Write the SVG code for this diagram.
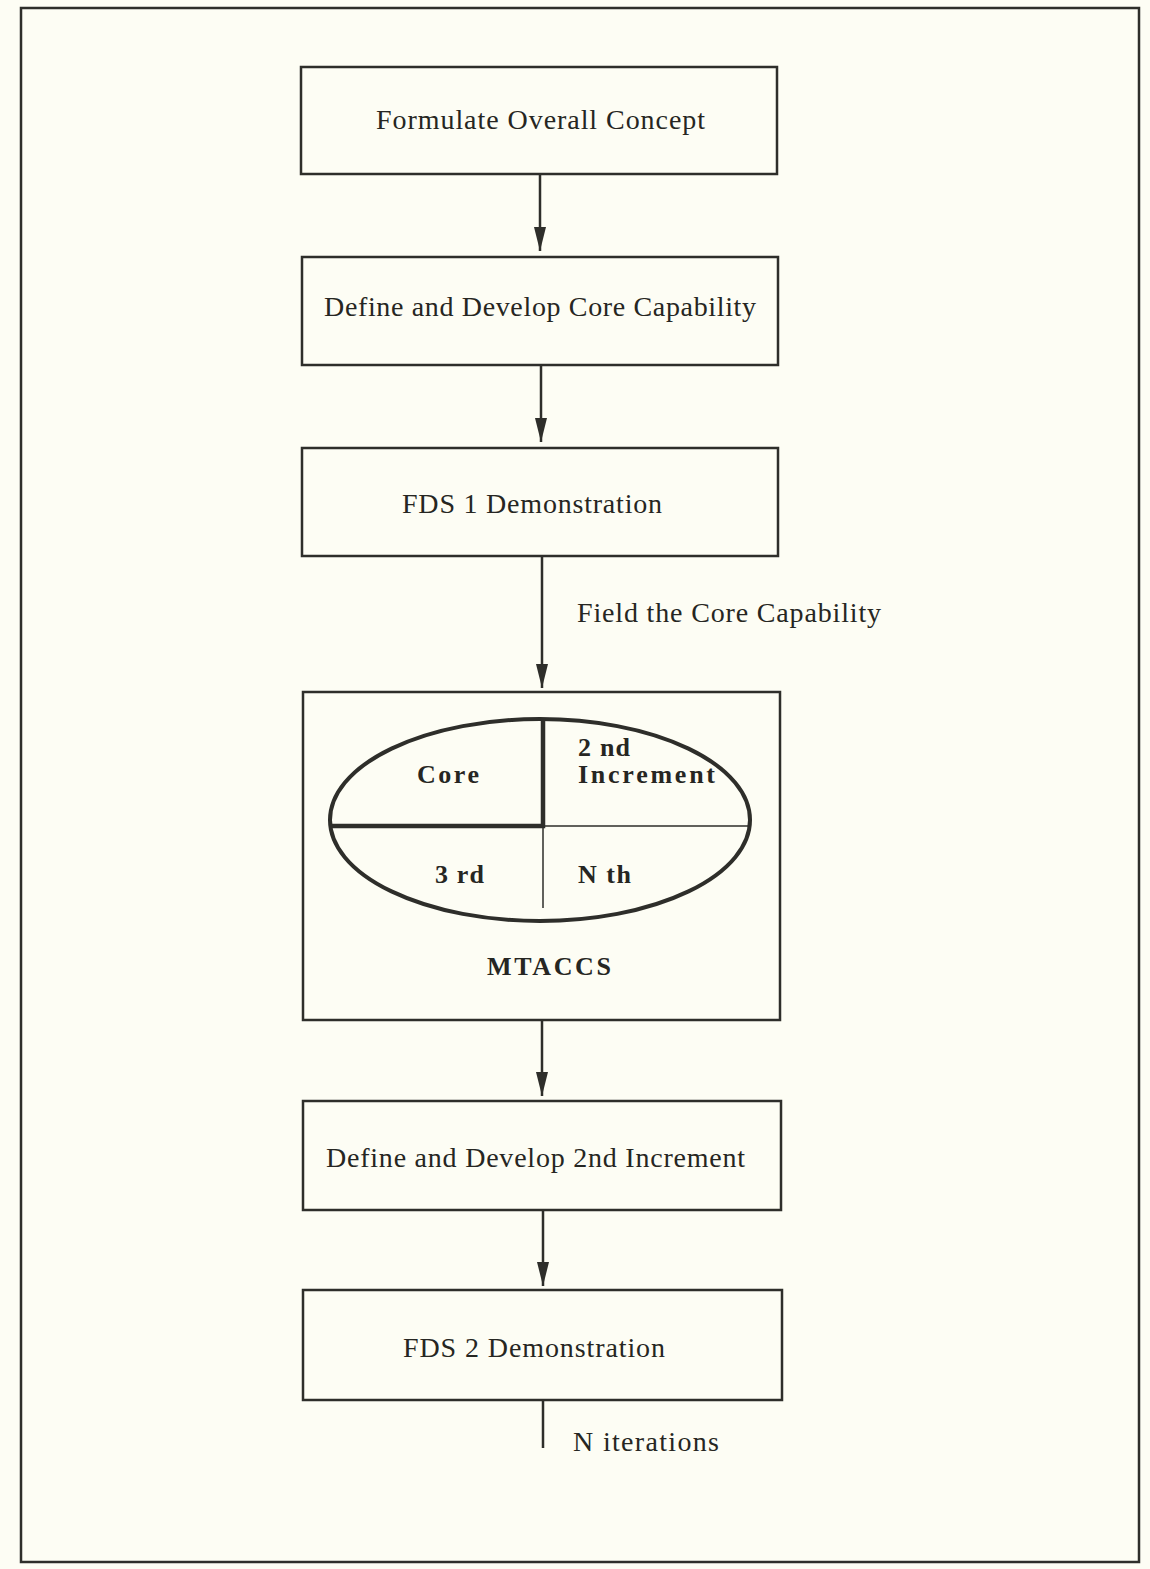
<svg xmlns="http://www.w3.org/2000/svg" width="1150" height="1569" viewBox="0 0 1150 1569">
  <style>
    .box { fill: none; stroke: #2e2e2a; stroke-width: 2.5; }
    .lbl { font-family: "Liberation Serif", "DejaVu Serif", serif; font-size: 28px; fill: #262622; }
    .bold { font-family: "Liberation Serif", "DejaVu Serif", serif; font-size: 26px; font-weight: bold; fill: #262622; }
    .edge { stroke: #2e2e2a; stroke-width: 2.5; fill: none; }
  </style>
  <defs>
    <marker id="head" viewBox="0 0 24 12" refX="24" refY="6" markerUnits="userSpaceOnUse" markerWidth="24" markerHeight="12" orient="auto">
      <path d="M0,0 L24,6 L0,12 Z" fill="#2e2e2a"/>
    </marker>
  </defs>
  <rect width="1150" height="1569" fill="#fdfdf4"/>
  <!-- page frame -->
  <rect x="21" y="8" width="1118" height="1554" class="box"/>

  <g id="n1">
    <rect x="301" y="67" width="476" height="107" class="box"/>
    <text x="376" y="129" class="lbl" textLength="329" lengthAdjust="spacing">Formulate Overall Concept</text>
  </g>
  <g id="n2">
    <rect x="302" y="257" width="476" height="108" class="box"/>
    <text x="324" y="316" class="lbl" textLength="432" lengthAdjust="spacing">Define and Develop Core Capability</text>
  </g>
  <g id="n3">
    <rect x="302" y="448" width="476" height="108" class="box"/>
    <text x="402" y="513" class="lbl" textLength="260" lengthAdjust="spacing">FDS 1 Demonstration</text>
  </g>
  <g id="n4">
    <rect x="303" y="692" width="477" height="328" class="box"/>
    <!-- quartered ellipse, core quadrant outlined heavy -->
    <ellipse cx="540" cy="820" rx="210" ry="101" fill="none" stroke="#2e2e2a" stroke-width="4"/>
    <path d="M330,826 H543 V718" fill="none" stroke="#2e2e2a" stroke-width="4.5"/>
    <path d="M543,826 H750 M543,826 V908" fill="none" stroke="#2e2e2a" stroke-width="1.5"/>
    <text x="417" y="783" class="bold" textLength="62" lengthAdjust="spacing">Core</text>
    <text x="578" y="756" class="bold" textLength="52" lengthAdjust="spacing">2 nd</text>
    <text x="578" y="783" class="bold" textLength="137" lengthAdjust="spacing">Increment</text>
    <text x="435" y="883" class="bold" textLength="49" lengthAdjust="spacing">3 rd</text>
    <text x="578" y="883" class="bold" textLength="53" lengthAdjust="spacing">N th</text>
    <text x="487" y="975" class="bold" textLength="124" lengthAdjust="spacing">MTACCS</text>
  </g>
  <g id="n5">
    <rect x="303" y="1101" width="478" height="109" class="box"/>
    <text x="326" y="1167" class="lbl" textLength="419" lengthAdjust="spacing">Define and Develop 2nd Increment</text>
  </g>
  <g id="n6">
    <rect x="303" y="1290" width="479" height="110" class="box"/>
    <text x="403" y="1357" class="lbl" textLength="262" lengthAdjust="spacing">FDS 2 Demonstration</text>
  </g>

  <g id="connectors">
    <line x1="540" y1="174" x2="540" y2="251" class="edge" marker-end="url(#head)"/>
    <line x1="541" y1="365" x2="541" y2="442" class="edge" marker-end="url(#head)"/>
    <line x1="542" y1="556" x2="542" y2="688" class="edge" marker-end="url(#head)"/>
    <line x1="542" y1="1020" x2="542" y2="1096" class="edge" marker-end="url(#head)"/>
    <line x1="543" y1="1210" x2="543" y2="1286" class="edge" marker-end="url(#head)"/>
    <line x1="543" y1="1400" x2="543" y2="1448" class="edge"/>
    <text x="577" y="622" class="lbl" textLength="304" lengthAdjust="spacing">Field the Core Capability</text>
    <text x="573" y="1451" class="lbl" textLength="146" lengthAdjust="spacing">N iterations</text>
  </g>
</svg>
